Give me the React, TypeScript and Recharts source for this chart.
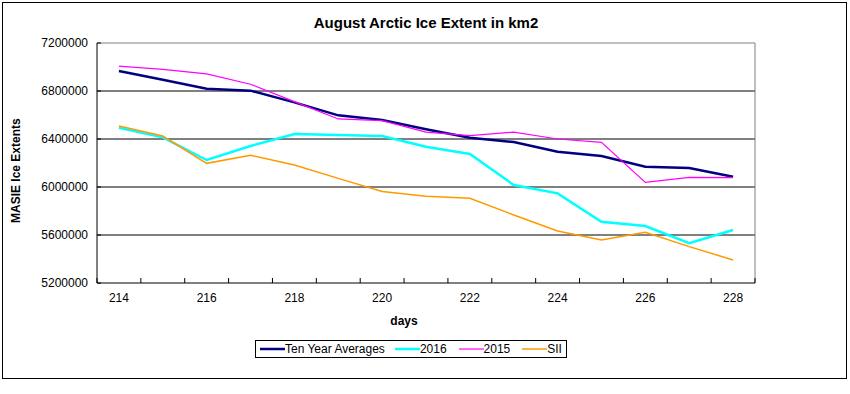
import React from "react";
import { LineChart, Line, XAxis, YAxis, ReferenceLine, Legend } from "recharts";

const days = [214, 215, 216, 217, 218, 219, 220, 221, 222, 223, 224, 225, 226, 227, 228];
const tenYearAverages = [6966000, 6893000, 6819000, 6803000, 6705000, 6597000, 6558000, 6481000, 6411000, 6375000, 6294000, 6258000, 6169000, 6158000, 6086000];
const ice2016 = [6494000, 6414000, 6225000, 6342000, 6442000, 6433000, 6425000, 6336000, 6275000, 6017000, 5947000, 5711000, 5675000, 5531000, 5642000];
const ice2015 = [7008000, 6981000, 6942000, 6856000, 6711000, 6567000, 6553000, 6458000, 6428000, 6458000, 6400000, 6372000, 6039000, 6081000, 6078000];
const sii = [6508000, 6425000, 6197000, 6264000, 6183000, 6072000, 5962000, 5922000, 5906000, 5767000, 5633000, 5558000, 5622000, 5503000, 5392000];

const yTicks = [5200000, 5600000, 6000000, 6400000, 6800000, 7200000];
const gridValues = [5600000, 6000000, 6400000, 6800000];
const xLabelTicks = [214, 216, 218, 220, 222, 224, 226, 228];

const data = days.map((d, i) => ({
  day: d,
  avg: tenYearAverages[i],
  y2016: ice2016[i],
  y2015: ice2015[i],
  sii: sii[i],
}));

const xBoundaries = [...days.map((d) => d - 0.5), days[days.length - 1] + 0.5];
const xTicks = [...xBoundaries, ...xLabelTicks].sort((a, b) => a - b);

const FONT = "'Liberation Sans', Arial, sans-serif";

const XTick = (props: any) => {
  const { x, y, payload } = props;
  const v = payload.value;
  if (Math.abs(v - Math.round(v)) > 0.01) {
    return <line x1={x} x2={x} y1={y - 10} y2={y - 15} stroke="#000" strokeWidth={1} />;
  }
  return (
    <text x={x} y={y} dy="0.71em" textAnchor="middle" fontSize={12} fontFamily={FONT} fill="#000">
      {v}
    </text>
  );
};

const YTick = (props: any) => {
  const { x, y, payload } = props;
  return (
    <g>
      <line x1={x + 9} x2={x + 13} y1={y} y2={y} stroke="#000" strokeWidth={1} />
      <text x={x} y={y} dy="0.355em" textAnchor="end" fontSize={12} fontFamily={FONT} fill="#000">
        {payload.value}
      </text>
    </g>
  );
};

const legendItems = [
  { label: "Ten Year Averages", color: "#000080", width: 2.5 },
  { label: "2016", color: "#00FFFF", width: 2.5 },
  { label: "2015", color: "#FF00FF", width: 1.2 },
  { label: "SII", color: "#FF9900", width: 1.5 },
];

const LegendContent = () => (
  <div
    style={{
      border: "1px solid #000",
      width: 312,
      height: 18,
      boxSizing: "border-box",
      display: "flex",
      alignItems: "center",
      fontFamily: FONT,
      fontSize: 12,
      color: "#000",
      paddingLeft: 4,
      background: "#fff",
    }}
  >
    {legendItems.map((it, i) => (
      <div key={it.label} style={{ display: "flex", alignItems: "center", marginRight: i === 0 ? 10 : i === 3 ? 0 : 12 }}>
        <svg width={25} height={10}>
          <line x1={0} x2={25} y1={5} y2={5} stroke={it.color} strokeWidth={it.width} />
        </svg>
        <span style={{ whiteSpace: "nowrap" }}>{it.label}</span>
      </div>
    ))}
  </div>
);

export default function App() {
  return (
    <div style={{ position: "absolute", left: 0, top: 0, width: 850, height: 394, background: "#fff" }}>
      <div
        style={{
          position: "absolute",
          left: 2,
          top: 2,
          width: 845,
          height: 377,
          border: "1px solid #000",
          boxSizing: "border-box",
        }}
      />
      <div
        style={{
          position: "absolute",
          left: 0,
          top: 15,
          width: 852,
          textAlign: "center",
          fontFamily: FONT,
          fontWeight: "bold",
          fontSize: 15,
          lineHeight: "15px",
        }}
      >
        August Arctic Ice Extent in km2
      </div>
      <div style={{ position: "absolute", left: 0, top: 0 }}>
        <LineChart
          width={850}
          height={394}
          data={data}
          margin={{ top: 43, right: 95, bottom: 63, left: 0 }}
        >
          {gridValues.map((v) => (
            <ReferenceLine key={v} y={v} stroke="#000" strokeWidth={1} />
          ))}
          <ReferenceLine y={yTicks[yTicks.length - 1]} stroke="#808080" strokeWidth={1} />
          <ReferenceLine x={xBoundaries[xBoundaries.length - 1]} stroke="#808080" strokeWidth={1} />
          <XAxis
            dataKey="day"
            type="number"
            domain={[xBoundaries[0], xBoundaries[xBoundaries.length - 1]]}
            ticks={xTicks}
            interval={0}
            height={30}
            tickSize={5}
            tickMargin={5}
            tickLine={false}
            axisLine={{ stroke: "#000" }}
            tick={<XTick />}
            allowDataOverflow
            label={{
              value: "days",
              position: "insideBottom",
              offset: -12,
              fontFamily: FONT,
              fontWeight: "bold",
              fontSize: 12,
              fill: "#000",
              dx: -22,
            }}
          />
          <YAxis
            type="number"
            domain={[yTicks[0], yTicks[yTicks.length - 1]]}
            ticks={yTicks}
            interval={0}
            width={97}
            tickSize={5}
            tickMargin={4}
            tickLine={false}
            axisLine={{ stroke: "#000" }}
            tick={<YTick />}
            label={{
              value: "MASIE Ice Extents",
              angle: -90,
              position: "insideLeft",
              offset: 16,
              dy: 60,
              fontFamily: FONT,
              fontWeight: "bold",
              fontSize: 12,
              fill: "#000",
            }}
          />
          <Line dataKey="avg" stroke="#000080" strokeWidth={2.5} dot={false} isAnimationActive={false} />
          <Line dataKey="y2016" stroke="#00FFFF" strokeWidth={2.5} dot={false} isAnimationActive={false} />
          <Line dataKey="y2015" stroke="#FF00FF" strokeWidth={1.2} dot={false} isAnimationActive={false} />
          <Line dataKey="sii" stroke="#FF9900" strokeWidth={1.5} dot={false} isAnimationActive={false} />
          <Legend
            content={<LegendContent />}
            wrapperStyle={{ position: "absolute", left: 255, top: 340, width: 312, bottom: "auto" }}
          />
        </LineChart>
      </div>
    </div>
  );
}
